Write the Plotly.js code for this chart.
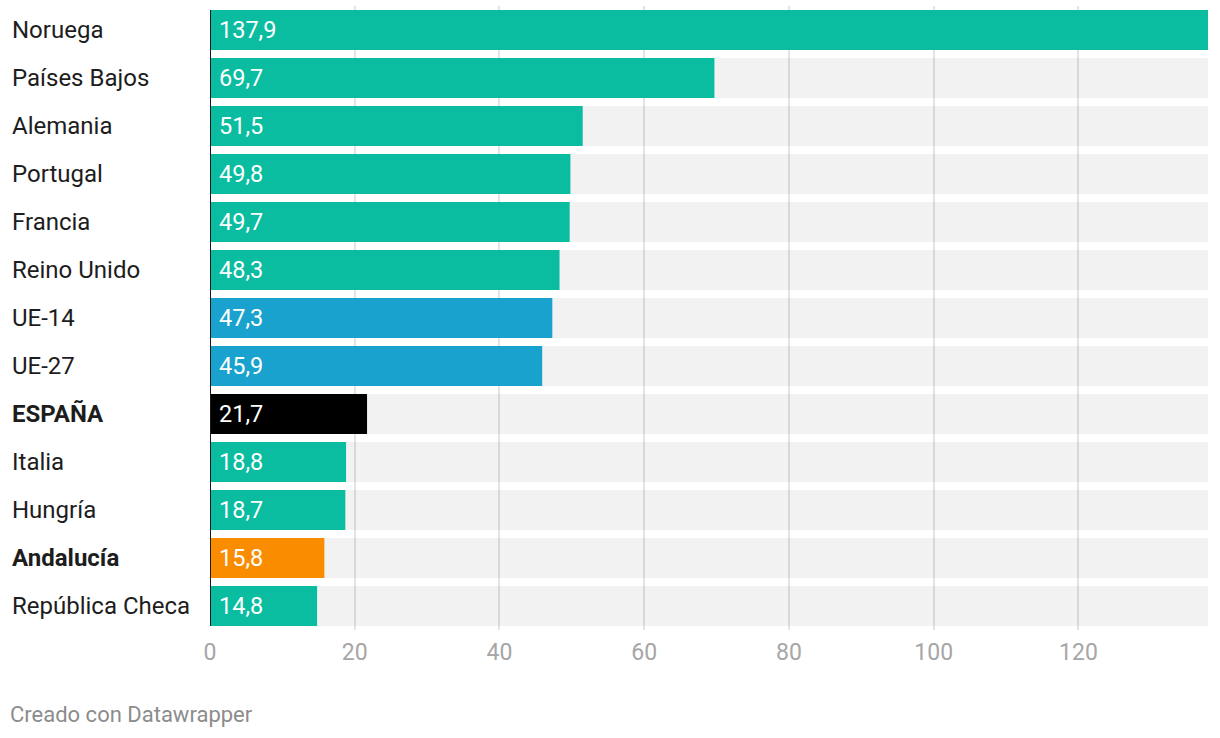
<!DOCTYPE html>
<html>
<head>
<meta charset="utf-8">
<script src="https://cdn.plot.ly/plotly-3.0.1.min.js"></script>
<style>html,body{margin:0;padding:0;background:#fff;}#chart{width:1220px;height:738px;}</style>
</head>
<body>
<div id="chart"></div>
<script>
const categories = ["Noruega","Países Bajos","Alemania","Portugal","Francia","Reino Unido","UE-14","UE-27","ESPAÑA","Italia","Hungría","Andalucía","República Checa"];
const values = [137.9, 69.7, 51.5, 49.8, 49.7, 48.3, 47.3, 45.9, 21.7, 18.8, 18.7, 15.8, 14.8];
const groups = ["pais","pais","pais","pais","pais","pais","ue","ue","espana","pais","pais","andalucia","pais"];
const boldCategories = ["ESPAÑA","Andalucía"];
const groupColors = {pais:"#0abda0", ue:"#19a2cd", espana:"#000000", andalucia:"#fa8c00"};
const xTicks = [0, 20, 40, 60, 80, 100, 120];
const footer = "Creado con Datawrapper";

const maxVal = Math.max(...values);
const fmt = v => v.toFixed(1).replace(".", ",");
const FONT = "Roboto, 'Noto Sans', sans-serif";

const bg = {
  type: "bar", orientation: "h", y: categories, x: categories.map(() => maxVal),
  marker: {color: "rgba(0,0,0,0.05)"}, hoverinfo: "skip", showlegend: false
};
const bars = {
  type: "bar", orientation: "h", y: categories, x: values,
  marker: {color: groups.map(g => groupColors[g])}, showlegend: false
};

const annotations = [];
categories.forEach((c, i) => {
  annotations.push({
    xref: "paper", yref: "y", x: -200/998, y: c, xanchor: "left", yanchor: "middle",
    text: boldCategories.includes(c) ? "<b>" + c + "</b>" : c,
    showarrow: false, font: {family: FONT, size: 24, color: "#1d1d1d"}
  });
  annotations.push({
    xref: "x", yref: "y", x: 0, y: c, xanchor: "left", yanchor: "middle", xshift: 7,
    text: fmt(values[i]), showarrow: false, font: {family: FONT, size: 23.5, color: "#ffffff"}
  });
});
annotations.push({
  xref: "paper", yref: "paper", x: -202/998, y: -84/624, xanchor: "left", yanchor: "middle",
  text: footer, showarrow: false, font: {family: FONT, size: 22, color: "#8c8c8c"}
});

const layout = {
  width: 1220, height: 738,
  margin: {l: 210, r: 12, t: 6, b: 108},
  paper_bgcolor: "#fff", plot_bgcolor: "#fff",
  barmode: "overlay", bargap: 1/6,
  font: {family: FONT},
  xaxis: {
    range: [0, maxVal], tickvals: xTicks, ticktext: xTicks.map(String),
    showgrid: true, gridcolor: "#e4e4e4", gridwidth: 2, zeroline: false,
    showline: false, ticks: "", tickfont: {family: FONT, size: 23, color: "#a6a6a6"},
    ticklabelstandoff: 6, fixedrange: true
  },
  yaxis: {
    categoryorder: "array", categoryarray: categories, autorange: "reversed",
    showticklabels: false, showgrid: false, zeroline: false, showline: false, ticks: "", fixedrange: true
  },
  shapes: [{
    type: "line", xref: "x", yref: "paper", x0: 0, x1: 0, y0: 4/624, y1: 1 - 4/624,
    line: {color: "#1a1a1a", width: 2}, layer: "above"
  }],
  annotations: annotations
};

Plotly.newPlot("chart", [bg, bars], layout, {displayModeBar: false, staticPlot: true});
</script>
</body>
</html>
